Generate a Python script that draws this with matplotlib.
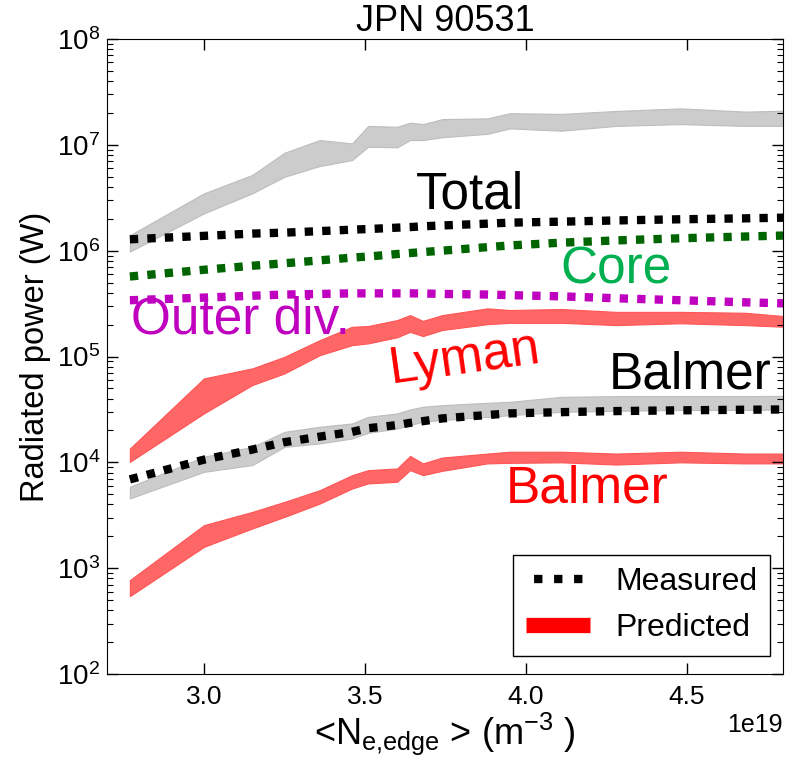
import matplotlib
matplotlib.use("Agg")
import matplotlib.pyplot as plt
from matplotlib.lines import Line2D
import numpy as np

# =========================================================================
# Style
# =========================================================================
plt.rcParams.update({
    "font.family": ["Liberation Sans", "DejaVu Sans"],
    "mathtext.fontset": "custom",
    "mathtext.rm": "Liberation Sans",
    "mathtext.it": "Liberation Sans:italic",
    "mathtext.bf": "Liberation Sans:bold",
    "xtick.direction": "in",
    "ytick.direction": "in",
    "xtick.top": True,
    "ytick.right": True,
})

# =========================================================================
# Data (edge density in 1e19 m^-3, radiated power in W)
# =========================================================================
ne_edge = [2.77, 3.00, 3.15, 3.25, 3.36, 3.46, 3.51, 3.60, 3.64, 3.68,
           3.74, 3.88, 3.95, 4.11, 4.28, 4.48, 4.68, 4.80]

total_hi = [1.40e6, 3.48e6, 5.19e6, 8.42e6, 1.11e7, 1.03e7, 1.51e7, 1.48e7, 1.62e7,
            1.57e7, 1.75e7, 1.78e7, 1.99e7, 1.96e7, 2.09e7, 2.21e7, 2.06e7, 2.10e7]
total_lo = [9.8e5, 2.25e6, 3.48e6, 4.99e6, 6.31e6, 7.18e6, 9.59e6, 9.47e6, 1.11e7,
            1.11e7, 1.18e7, 1.27e7, 1.43e7, 1.36e7, 1.51e7, 1.57e7, 1.51e7, 1.51e7]
total_meas = [1.28e6, 1.38e6, 1.45e6, 1.48e6, 1.53e6, 1.58e6, 1.60e6, 1.65e6, 1.67e6,
              1.70e6, 1.73e6, 1.80e6, 1.84e6, 1.88e6, 1.93e6, 1.98e6, 2.02e6, 2.05e6]

core_meas = [5.7e5, 6.6e5, 7.2e5, 7.6e5, 8.1e5, 8.6e5, 8.8e5, 9.3e5, 9.5e5,
             9.7e5, 1.0e6, 1.08e6, 1.12e6, 1.19e6, 1.25e6, 1.31e6, 1.36e6, 1.39e6]

outer_meas = [3.4e5, 3.6e5, 3.75e5, 3.85e5, 3.9e5, 3.95e5, 3.95e5, 3.95e5, 3.95e5,
              3.94e5, 3.9e5, 3.85e5, 3.8e5, 3.7e5, 3.55e5, 3.4e5, 3.25e5, 3.18e5]

lyman_hi = [1.35e4, 6.21e4, 7.72e4, 9.93e4, 1.43e5, 1.91e5, 1.94e5, 2.21e5, 2.46e5,
            2.17e5, 2.46e5, 2.85e5, 2.75e5, 2.81e5, 2.64e5, 2.64e5, 2.59e5, 2.41e5]
lyman_lo = [1.01e4, 2.90e4, 5.37e4, 6.92e4, 1.03e5, 1.28e5, 1.33e5, 1.52e5, 1.71e5,
            1.56e5, 1.78e5, 2.02e5, 2.08e5, 2.08e5, 1.98e5, 2.06e5, 1.98e5, 1.91e5]

balmer_hi = [5.87e3, 1.13e4, 1.40e4, 1.94e4, 2.17e4, 2.33e4, 2.69e4, 2.90e4, 3.16e4,
             3.35e4, 3.47e4, 3.65e4, 3.73e4, 4.16e4, 4.22e4, 4.22e4, 4.22e4, 4.25e4]
balmer_lo = [4.56e3, 8.13e3, 9.42e3, 1.40e4, 1.51e4, 1.68e4, 1.90e4, 2.09e4, 2.25e4,
             2.42e4, 2.51e4, 2.69e4, 2.79e4, 3.00e4, 3.07e4, 3.12e4, 3.12e4, 3.16e4]
balmer_meas = [6.9e3, 1.06e4, 1.32e4, 1.55e4, 1.75e4, 1.94e4, 2.10e4, 2.25e4, 2.36e4,
               2.45e4, 2.60e4, 2.80e4, 2.90e4, 2.98e4, 3.05e4, 3.10e4, 3.14e4, 3.16e4]

balmer_pred_hi = [7.71e2, 2.55e3, 3.40e3, 4.23e3, 5.46e3, 7.57e3, 8.44e3, 8.75e3, 1.15e4,
                  9.77e3, 1.11e4, 1.21e4, 1.26e4, 1.26e4, 1.21e4, 1.26e4, 1.21e4, 1.21e4]
balmer_pred_lo = [5.44e2, 1.59e3, 2.37e3, 3.05e3, 4.08e3, 5.66e3, 6.32e3, 6.55e3, 8.44e3,
                  7.57e3, 8.31e3, 9.77e3, 9.89e3, 1.00e4, 9.53e3, 1.00e4, 9.77e3, 9.77e3]

x = np.array(ne_edge) * 1e19

GRAY = "#cccccc"
PRED = "#ff6666"
DOT = (0, (1, 1.1))

# =========================================================================
# Figure
# =========================================================================
fig = plt.figure(figsize=(7.97, 7.64), dpi=100)
ax = fig.add_axes([107 / 797, 90 / 764, 676 / 797, 635 / 764])

band = dict(lw=0.8)
ax.fill_between(x, total_lo, total_hi, facecolor=GRAY, edgecolor="#bdbdbd", **band)
ax.fill_between(x, lyman_lo, lyman_hi, facecolor=PRED, edgecolor="#ff5555", **band)
ax.fill_between(x, balmer_lo, balmer_hi, facecolor=GRAY, edgecolor="#bdbdbd", **band)
ax.fill_between(x, balmer_pred_lo, balmer_pred_hi, facecolor=PRED, edgecolor="#ff5555", **band)

ax.plot(x, total_meas, color="black", lw=6, ls=DOT)
ax.plot(x, core_meas, color="#006400", lw=6, ls=DOT)
ax.plot(x, outer_meas, color="#bf00bf", lw=6, ls=DOT)
ax.plot(x, balmer_meas, color="black", lw=6, ls=DOT)

# labels on the curves
txt = dict(fontsize=37)
ax.text(3.826e19, 2.53e6, "Total", color="black", ha="center", va="baseline", **txt)
ax.text(4.279e19, 4.94e5, "Core", color="#00b050", ha="center", va="baseline", **txt)
ax.text(2.775e19, 1.66e5, "Outer div.", color="#bf00bf", ha="left", va="baseline", **txt)
ax.text(3.81e19, 9.5e4, "Lyman", color="red", ha="center", va="center",
        rotation=8, **txt)
ax.text(4.509e19, 5.03e4, "Balmer", color="black", ha="center", va="baseline", **txt)
ax.text(4.189e19, 4.2e3, "Balmer", color="red", ha="center", va="baseline", **txt)

ax.set_yscale("log")
ax.set_ylim(1e2, 1e8)
ax.set_xlim(2.699e19, 4.798e19)
ax.set_xticks([3.0e19, 3.5e19, 4.0e19, 4.5e19])

ax.tick_params(which="major", length=8, width=1, labelsize=19, pad=8)
ax.tick_params(which="minor", length=4, width=0.8)
ax.tick_params(axis="y", labelsize=20, pad=5)
ax.xaxis.get_offset_text().set_fontsize(18)

ax.set_title("JPN 90531", fontsize=26, pad=4)
ax.set_ylabel("Radiated power (W)", fontsize=23.5, labelpad=4)
ax.set_xlabel(r"<N$_{\mathrm{e{,}edge}}$ > (m$^{-3}$ )", fontsize=26, labelpad=1)

handles = [Line2D([], [], color="black", lw=6, ls=(1.43, (1, 1.4))),
           Line2D([], [], color="red", lw=11, solid_capstyle="butt")]
leg = ax.legend(handles, ["Measured", "Predicted"], loc="lower right",
                bbox_to_anchor=(0.981, 0.028), borderaxespad=0,
                fontsize=23, fancybox=False, framealpha=1)
leg.get_frame().set_edgecolor("black")

fig.savefig("out.png", dpi=100)
